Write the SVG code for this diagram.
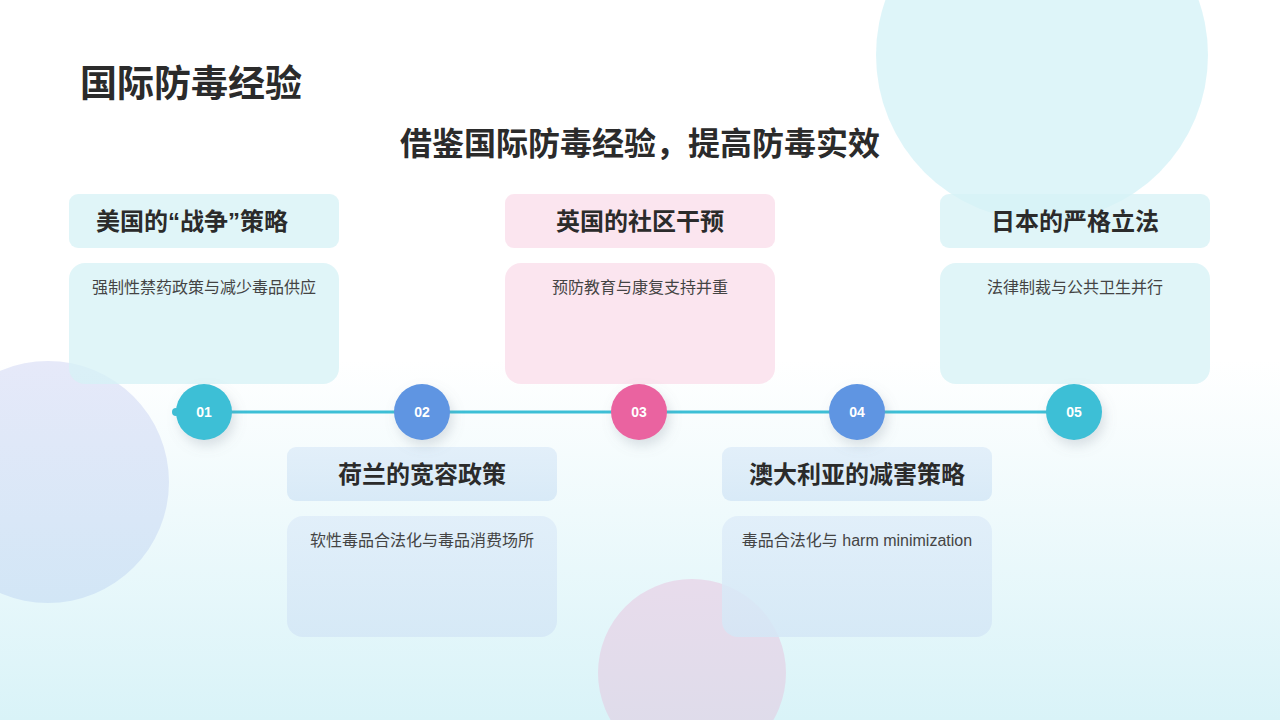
<svg xmlns="http://www.w3.org/2000/svg" width="1280" height="720" viewBox="0 0 1280 720">
  <defs>
    <linearGradient id="bg" x1="0" y1="0" x2="0" y2="1">
      <stop offset="0" stop-color="#ffffff"/>
      <stop offset="0.5" stop-color="#ffffff"/>
      <stop offset="1" stop-color="#d9f3f8"/>
    </linearGradient>
    <linearGradient id="leftc" x1="0" y1="0" x2="0" y2="1">
      <stop offset="0" stop-color="#e6e9f9"/>
      <stop offset="1" stop-color="#d2e6f6"/>
    </linearGradient>
    <linearGradient id="botc" x1="0" y1="0" x2="0" y2="1">
      <stop offset="0" stop-color="#e8dcec"/>
      <stop offset="1" stop-color="#dcdcea"/>
    </linearGradient>
    <linearGradient id="blueCard" x1="0" y1="0" x2="0" y2="1">
      <stop offset="0" stop-color="#dfedf9"/>
      <stop offset="1" stop-color="#d4e7f6"/>
    </linearGradient>
    <filter id="shadow" x="-50%" y="-50%" width="200%" height="200%">
      <feDropShadow dx="3" dy="6" stdDeviation="6" flood-color="#7a8a99" flood-opacity="0.25"/>
    </filter>
    <style>
      .title{font-family:"Noto Sans CJK SC","Noto Sans",sans-serif;font-weight:700;fill:#2b2b2b}
      .hdr{font-family:"Noto Sans CJK SC","Noto Sans",sans-serif;font-weight:700;font-size:24px;fill:#2b2b2b;text-anchor:middle}
      .q{font-family:"Liberation Sans",Arial,sans-serif;font-weight:700}
      .body{font-family:"Liberation Sans","Noto Sans CJK SC",sans-serif;font-size:16px;fill:#444444;text-anchor:middle}
      .num{font-family:"Liberation Sans",Arial,sans-serif;font-weight:700;font-size:14px;fill:#ffffff;text-anchor:middle}
      .cyan{fill:#d6f1f6;fill-opacity:0.75}
      .pink{fill:#fbe2ed;fill-opacity:0.9}
      .blue{fill:url(#blueCard);fill-opacity:0.85}
    </style>
  </defs>

  <rect x="0" y="0" width="1280" height="720" fill="url(#bg)"/>

  <g id="decor">
    <circle cx="1042" cy="55" r="166" fill="#d3f1f7" fill-opacity="0.75"/>
    <circle cx="48" cy="482" r="121" fill="url(#leftc)"/>
    <circle cx="692" cy="673" r="94" fill="url(#botc)"/>
  </g>

  <g id="titles">
    <text class="title" x="80" y="97" font-size="37">国际防毒经验</text>
    <text class="title" x="640" y="155" font-size="32" text-anchor="middle">借鉴国际防毒经验，提高防毒实效</text>
  </g>

  <g id="connectors">
    <line x1="176" y1="412" x2="1074" y2="412" stroke="#3dbfd6" stroke-width="3"/>
    <circle cx="176" cy="412" r="4" fill="#3dbfd6"/>
  </g>

  <g id="card-usa">
    <rect class="cyan" x="69" y="194" width="270" height="54" rx="9"/>
    <rect class="cyan" x="69" y="263" width="270" height="121" rx="16"/>
    <text class="hdr" x="192" y="230">美国的<tspan class="q">“</tspan>战争<tspan class="q">”</tspan>策略</text>
    <text class="body" x="204" y="293">强制性禁药政策与减少毒品供应</text>
  </g>

  <g id="card-nl">
    <rect class="blue" x="287" y="447" width="270" height="54" rx="9"/>
    <rect class="blue" x="287" y="516" width="270" height="121" rx="16"/>
    <text class="hdr" x="422" y="483">荷兰的宽容政策</text>
    <text class="body" x="422" y="546">软性毒品合法化与毒品消费场所</text>
  </g>

  <g id="card-uk">
    <rect class="pink" x="505" y="194" width="270" height="54" rx="9"/>
    <rect class="pink" x="505" y="263" width="270" height="121" rx="16"/>
    <text class="hdr" x="640" y="230">英国的社区干预</text>
    <text class="body" x="640" y="293">预防教育与康复支持并重</text>
  </g>

  <g id="card-au">
    <rect class="blue" x="722" y="447" width="270" height="54" rx="9"/>
    <rect class="blue" x="722" y="516" width="270" height="121" rx="16"/>
    <text class="hdr" x="857" y="483">澳大利亚的减害策略</text>
    <text class="body" x="857" y="546">毒品合法化与 harm minimization</text>
  </g>

  <g id="card-jp">
    <rect class="cyan" x="940" y="194" width="270" height="54" rx="9"/>
    <rect class="cyan" x="940" y="263" width="270" height="121" rx="16"/>
    <text class="hdr" x="1075" y="230">日本的严格立法</text>
    <text class="body" x="1075" y="293">法律制裁与公共卫生并行</text>
  </g>

  <g id="node-01">
    <circle cx="204" cy="412" r="28" fill="#3dbfd6" filter="url(#shadow)"/>
    <text class="num" x="204" y="417">01</text>
  </g>
  <g id="node-02">
    <circle cx="422" cy="412" r="28" fill="#5e95e2" filter="url(#shadow)"/>
    <text class="num" x="422" y="417">02</text>
  </g>
  <g id="node-03">
    <circle cx="639" cy="412" r="28" fill="#ea64a0" filter="url(#shadow)"/>
    <text class="num" x="639" y="417">03</text>
  </g>
  <g id="node-04">
    <circle cx="857" cy="412" r="28" fill="#5e95e2" filter="url(#shadow)"/>
    <text class="num" x="857" y="417">04</text>
  </g>
  <g id="node-05">
    <circle cx="1074" cy="412" r="28" fill="#3dbfd6" filter="url(#shadow)"/>
    <text class="num" x="1074" y="417">05</text>
  </g>
</svg>
